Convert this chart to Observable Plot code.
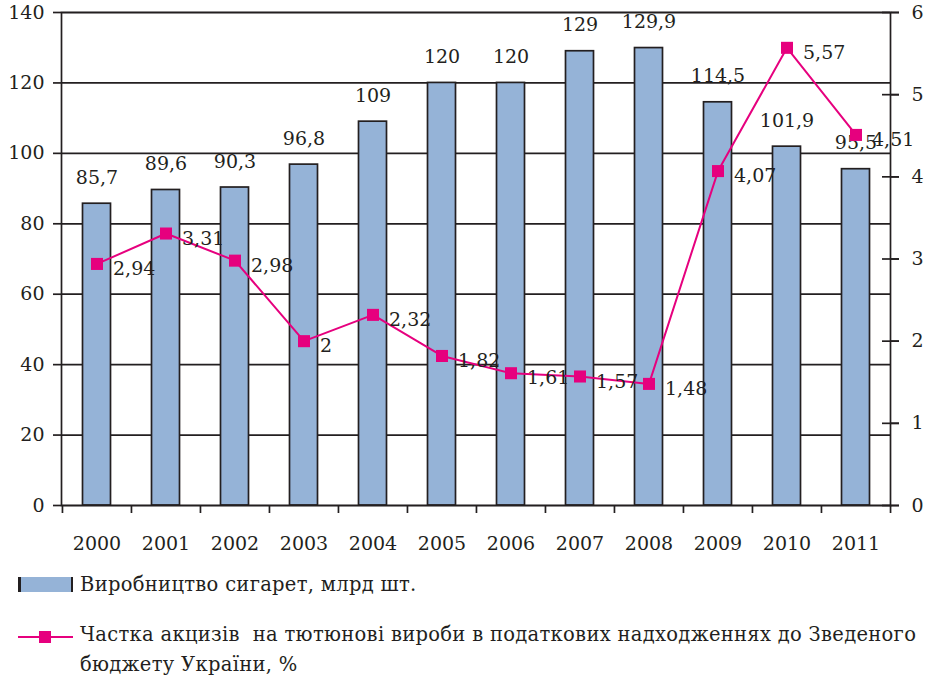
<!DOCTYPE html>
<html>
<head>
<meta charset="utf-8">
<script src="https://cdn.jsdelivr.net/npm/d3@7"></script>
<script src="https://cdn.jsdelivr.net/npm/@observablehq/plot@0.6"></script>
<style>
  body { margin: 0; background: #fff; }
  #wrap { position: relative; width: 928px; height: 676px; font-family: "DejaVu Serif", "Liberation Serif", "Times New Roman", serif; color: #231f20; }
  #chart { position: absolute; left: 0; top: 0; }
  .swatch-bar { position: absolute; left: 18px; top: 577px; width: 50px; height: 15px; background: #95b3d7; border-left: 3px solid #231f20; border-right: 2px solid #231f20; }
  .swatch-line { position: absolute; left: 18px; top: 636px; width: 55px; height: 2px; background: #e6007e; }
  .swatch-dot { position: absolute; left: 39px; top: 631px; width: 12px; height: 12px; background: #e6007e; }
  .leg-text { position: absolute; left: 80px; font-size: 19.5px; letter-spacing: 0.3px; white-space: nowrap; }
</style>
</head>
<body>
<div id="wrap">
  <div id="chart"></div>
  <div class="swatch-bar"></div>
  <div class="leg-text" style="top:572px; line-height:26px;">Виробництво сигарет, млрд шт.</div>
  <div class="swatch-line"></div>
  <div class="swatch-dot"></div>
  <div class="leg-text" style="top:620px; line-height:30px;">Частка акцизів&nbsp; на тютюнові вироби в податкових надходженнях до Зведеного<br>бюджету України, %</div>
</div>
<script>
const years = ["2000","2001","2002","2003","2004","2005","2006","2007","2008","2009","2010","2011"];
const production = [85.7, 89.6, 90.3, 96.8, 109, 120, 120, 129, 129.9, 114.5, 101.9, 95.5];
const exciseShare = [2.94, 3.31, 2.98, 2, 2.32, 1.82, 1.61, 1.57, 1.48, 4.07, 5.57, 4.51];
const leftTicks = [0, 20, 40, 60, 80, 100, 120, 140];
const rightTicks = [0, 1, 2, 3, 4, 5, 6];

const fmt = v => String(v).replace(".", ",");
const W = 928, H = 565, mL = 61, mR = 38, mT = 12, mB = 60;
const step = (W - mL - mR) / years.length;
const k = 140 / 6; // right axis (0–6) mapped onto left axis (0–140)
const ink = "#231f20";
const pink = "#e6007e";
const fs = 19;

const data = years.map((y, i) => ({year: y, prod: production[i], share: exciseShare[i]}));

const chart = Plot.plot({
  width: W, height: H,
  marginLeft: mL, marginRight: mR, marginTop: mT, marginBottom: mB,
  style: {fontFamily: "'DejaVu Serif', 'Liberation Serif', serif", fontSize: fs + "px", color: ink, background: "white", overflow: "visible"},
  x: {type: "band", domain: years, padding: 0, axis: null},
  y: {domain: [0, 140], axis: null},
  marks: [
    Plot.ruleY(leftTicks, {stroke: ink, strokeWidth: 1.7}),
    Plot.barY(data, {x: "year", y: "prod", fill: "#95b3d7", stroke: ink, strokeWidth: 1.7, insetLeft: 20.5, insetRight: 20.5}),
    Plot.frame({stroke: ink, strokeWidth: 1.7}),
    // left axis
    Plot.axisY(leftTicks, {anchor: "left", tickSize: 8, tickPadding: 9, strokeWidth: 1.7, label: null, fontSize: fs}),
    // right axis (cross ticks + labels)
    Plot.axisY(rightTicks.map(v => v * k), {anchor: "right", tickSize: 17, dx: -9, strokeWidth: 1.7, tickFormat: () => "", label: null}),
    Plot.axisY(rightTicks.map(v => v * k), {anchor: "right", tickSize: 8, tickPadding: 13, strokeWidth: 1.7, tickFormat: v => fmt(Math.round(v / k)), label: null, fontSize: fs}),
    // bottom boundary ticks
    Plot.axisX(years, {anchor: "bottom", tickSize: 8, dx: -step / 2, strokeWidth: 1.7, tickFormat: () => "", label: null}),
    Plot.axisX([years[years.length - 1]], {anchor: "bottom", tickSize: 8, dx: step / 2, strokeWidth: 1.7, tickFormat: () => "", label: null}),
    // year labels
    Plot.axisX(years, {anchor: "bottom", tickSize: 0, tickPadding: 31, label: null, fontSize: fs}),
    // bar value labels
    Plot.text(data, {x: "year", y: "prod", text: d => fmt(d.prod), dy: -26, fill: ink, fontSize: fs}),
    // line series
    Plot.line(data, {x: "year", y: d => d.share * k, stroke: pink, strokeWidth: 2}),
    Plot.dot(data, {x: "year", y: d => d.share * k, symbol: "square", r: 6.8, fill: pink, stroke: null}),
    Plot.text(data, {x: "year", y: d => d.share * k, text: d => fmt(d.share), textAnchor: "start", dx: 16, dy: 5, fill: ink, fontSize: fs})
  ]
});
document.getElementById("chart").appendChild(chart);
</script>
</body>
</html>
